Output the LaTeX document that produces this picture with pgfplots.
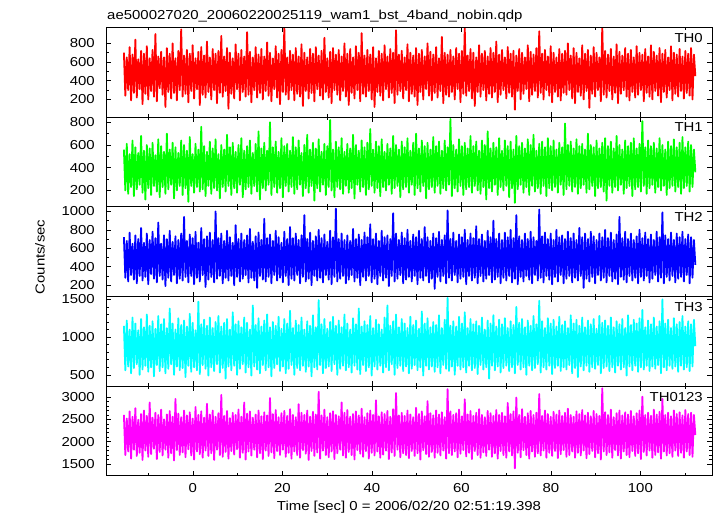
\documentclass[border=0pt]{standalone}
\usepackage{pgfplots}
\pgfplotsset{compat=1.18}
\usepackage{pgfplotstable}
\usepackage{fontspec}
\setmainfont{Liberation Sans}[FakeStretch=1.15]

\pgfplotstableread{
a b c d e
700 560 720 1150 2600
240 200 280 560 1700
650 610 680 1220 2520
300 170 240 610 1780
760 520 770 1100 2680
190 230 310 520 1620
680 640 650 1260 2560
270 150 260 590 1820
840 580 740 1180 2750
220 210 220 640 1680
630 530 700 1090 2490
310 250 300 500 1750
720 680 820 1240 2620
150 180 250 570 1590
690 550 660 1130 2700
260 120 290 620 1800
770 600 760 1300 2580
200 220 210 540 1660
640 570 690 1150 2880
290 160 320 600 1720
730 620 780 1210 2540
230 240 270 480 1840
900 510 710 1110 2650
180 190 230 630 1610
660 650 880 1280 2600
320 140 300 550 1770
710 590 650 1170 2720
250 230 260 600 1690
650 540 740 1240 2500
120 170 190 520 1820
750 700 700 1120 2610
280 210 280 580 1640
690 560 790 1380 2690
210 250 240 640 1740
800 620 670 1180 2560
270 130 310 500 1580
640 580 730 1100 2960
190 200 220 610 1810
720 530 690 1250 2630
300 240 270 560 1700
950 640 760 1160 2550
230 160 250 590 1760
670 600 940 1220 2700
260 220 290 470 1650
730 550 680 1140 2590
170 100 230 620 1830
690 670 750 1310 2660
290 240 300 540 1690
780 520 710 1190 2520
210 180 210 600 1600
640 610 780 1090 2780
310 230 280 560 1780
710 560 660 1470 2600
140 190 240 510 1720
760 760 820 1170 2680
250 210 310 630 1640
670 590 700 1230 2540
220 150 180 580 1800
820 540 730 1150 2850
280 240 260 490 1680
650 630 770 1260 2610
200 170 290 600 1740
740 570 690 1120 2700
300 220 230 550 1590
690 650 1000 1200 2560
160 200 270 640 1820
720 520 710 1280 2640
270 130 300 530 1700
880 600 760 1140 3050
230 230 220 590 1660
660 560 680 1190 2580
290 190 280 450 1770
750 690 790 1240 2690
100 240 250 610 1620
700 580 720 1100 2530
260 160 300 560 1790
640 620 660 1330 2650
210 220 200 620 1710
790 540 850 1170 2600
310 180 290 500 1830
690 600 700 1210 2720
190 250 240 580 1640
730 660 760 1130 2560
280 140 270 640 1750
660 550 690 1260 2880
230 210 310 530 1600
920 590 740 1190 2630
250 230 230 600 1780
710 640 810 1100 2680
170 170 280 490 1690
650 530 670 1420 2540
300 240 250 610 1820
760 610 730 1160 2610
220 190 170 570 1650
680 720 770 1250 2700
270 120 300 520 1740
740 570 690 1140 2570
200 220 260 630 1610
660 620 920 1220 2660
290 200 240 560 1800
810 550 710 1300 2590
240 250 290 600 1680
700 800 750 1130 2980
180 160 220 480 1760
640 580 680 1200 2620
310 230 310 590 1630
770 630 790 1150 2710
220 180 250 640 1790
690 540 720 1270 2550
150 220 280 550 1700
730 660 660 1110 2640
280 140 230 610 1820
970 590 780 1240 2690
250 240 300 520 1660
650 610 700 1180 2580
200 190 200 580 1750
720 550 830 1350 2730
300 230 270 630 1620
680 670 710 1120 2600
190 170 250 500 1780
750 580 760 1220 2550
260 210 310 590 1700
660 640 690 1160 2840
230 250 220 560 1640
790 530 740 1260 2650
130 150 290 620 1810
700 600 960 1100 2600
290 220 240 540 1730
650 690 700 1210 2700
210 180 270 610 1590
740 560 770 1150 2560
270 240 200 480 1790
690 620 680 1290 2670
180 110 300 600 1680
760 570 730 1130 2610
310 220 250 570 1760
670 650 800 1490 3120
240 190 280 630 1620
720 540 710 1170 2590
200 250 230 520 1800
860 610 750 1240 2720
280 160 310 590 1700
640 590 670 1110 2550
220 230 260 610 1650
710 820 790 1200 2640
160 200 210 550 1780
750 560 720 1270 2680
300 140 290 640 1610
680 630 1030 1150 2600
250 230 240 500 1740
730 580 700 1220 2570
190 210 270 580 1820
660 660 760 1130 2880
290 170 300 620 1690
800 540 690 1300 2650
230 240 220 560 1640
690 610 740 1180 2710
140 180 260 600 1770
740 570 680 1100 2560
270 220 310 530 1700
650 690 810 1250 2620
210 130 240 620 1600
770 600 700 1170 2680
300 250 280 570 1810
700 550 750 1380 2590
180 190 200 510 1730
910 640 690 1140 2740
260 230 290 630 1660
670 580 770 1210 2550
230 160 250 550 1790
730 620 720 1160 2640
290 210 300 600 1620
680 740 860 1280 2700
200 240 230 490 1750
760 560 700 1120 2600
120 180 270 610 1690
640 630 760 1230 2930
280 220 210 570 1780
720 590 680 1170 2570
240 150 300 620 1640
690 650 790 1100 2660
190 230 250 530 1710
780 540 720 1260 2620
310 200 280 600 1800
660 610 740 1420 2690
220 250 190 560 1610
740 570 700 1150 2560
270 170 300 640 1760
700 680 980 1210 2730
160 220 240 500 1680
940 600 760 1300 3090
250 240 270 590 1820
680 560 690 1130 2590
290 140 310 620 1650
720 630 770 1240 2650
210 210 220 550 1740
650 580 710 1180 2580
300 230 260 610 1700
790 660 800 1120 2700
180 180 290 520 1630
700 550 680 1270 2610
260 250 240 580 1790
670 620 750 1160 2550
230 160 300 630 1680
750 700 720 1220 2760
140 220 210 560 1740
690 570 790 1110 2620
280 190 280 600 1600
730 640 700 1340 2680
200 240 250 490 1810
660 590 830 1180 2570
310 130 300 620 1720
800 620 720 1250 2910
240 210 230 570 1660
710 560 680 1130 2640
190 230 270 610 1770
680 670 760 1200 2590
270 180 160 540 1640
760 590 710 1160 2700
220 240 290 600 1750
640 630 780 1290 2610
290 170 240 520 1690
870 550 690 1120 2660
160 220 300 630 1800
700 640 740 1230 2550
250 200 220 580 1620
680 580 1010 1520 3180
230 250 280 550 1740
730 830 700 1150 2680
280 150 250 610 1700
660 600 770 1210 2600
200 220 310 500 1780
750 560 680 1140 2640
310 190 230 620 1650
690 650 750 1270 2720
170 240 270 570 1730
720 590 720 1180 2570
260 160 290 600 1810
960 620 800 1330 2950
240 210 210 530 1670
670 570 690 1120 2610
290 230 300 620 1750
740 680 760 1240 2690
210 180 250 560 1610
700 590 710 1170 2580
130 240 280 590 1790
650 630 840 1210 2650
280 200 220 510 1700
780 550 700 1150 2730
230 170 300 630 1640
690 640 750 1260 2600
300 230 240 570 1760
720 600 680 1100 2550
190 120 270 600 1680
660 720 790 1220 2690
260 220 310 450 1820
750 570 720 1180 2640
220 190 230 620 1660
700 620 900 1290 2580
280 250 260 560 1740
820 580 700 1140 2710
170 160 290 610 1620
680 660 760 1230 2600
250 230 220 530 1790
730 550 690 1170 2650
300 200 280 590 1700
650 640 770 1250 2570
210 240 250 620 1640
760 590 720 1120 2870
270 140 300 550 1780
690 630 800 1210 2620
230 220 230 600 1690
720 560 710 1160 2680
90 90 270 520 1400
670 680 960 1400 2990
290 210 210 630 1750
740 590 730 1190 2600
200 250 290 570 1650
700 620 690 1240 2730
260 180 240 600 1810
650 570 760 1130 2560
310 230 300 500 1700
780 650 700 1220 2640
180 160 260 620 1620
710 600 780 1150 2690
250 240 220 560 1780
680 690 720 1280 2600
290 190 310 590 1660
750 550 680 1170 2650
220 220 250 640 1740
930 610 1020 1480 3070
270 170 280 530 1690
690 630 730 1210 2580
200 240 230 600 1800
730 580 770 1120 2700
300 150 300 570 1640
660 660 700 1250 2620
240 220 260 620 1750
770 590 760 1180 2560
170 200 210 510 1680
700 640 690 1230 2670
280 230 290 590 1790
650 560 800 1140 2610
230 180 240 620 1630
740 620 720 1270 2700
190 250 310 550 1720
690 580 740 1160 2580
270 160 220 600 1810
720 790 700 1210 2650
250 210 270 570 1660
800 600 780 1120 2740
300 240 300 630 1700
670 630 710 1290 2600
210 190 230 520 1780
750 570 760 1180 2560
160 230 280 590 1640
700 650 690 1230 2680
280 170 250 470 1750
640 590 820 1150 2620
240 220 300 610 1690
780 610 720 1260 2710
200 250 170 560 1800
690 560 760 1130 2590
290 180 270 620 1630
730 700 700 1220 2650
110 210 240 540 1720
670 600 780 1170 2570
260 240 290 600 1790
760 580 730 1240 2690
230 150 220 580 1650
700 640 690 1110 2620
300 220 310 630 1740
650 570 760 1280 2580
180 230 250 520 1600
980 620 720 1190 3200
250 190 280 590 1780
720 660 800 1220 2660
220 110 230 610 1700
680 590 710 1150 2600
290 240 300 550 1760
740 630 770 1260 2720
200 180 240 600 1640
660 570 690 1130 2550
270 230 270 530 1810
790 680 750 1210 2640
160 200 210 620 1690
710 600 940 1170 2700
260 250 290 570 1620
670 560 710 1240 2590
300 170 260 600 1780
750 640 780 1120 2660
230 220 230 490 1700
690 590 700 1290 2610
190 240 300 610 1650
730 620 760 1160 2690
280 150 250 560 1790
650 660 690 1230 2570
220 210 280 620 1680
770 570 730 1180 2640
250 230 220 540 1740
700 610 800 1250 2700
300 190 290 600 1610
680 810 710 1360 3010
180 240 250 570 1770
740 580 770 1130 2600
270 170 300 620 1690
660 640 700 1220 2650
230 220 230 550 1800
780 590 750 1170 2580
200 250 270 610 1640
710 620 690 1260 2720
290 180 310 580 1700
670 570 780 1140 2610
240 230 240 630 1760
750 660 720 1210 2670
170 200 280 520 1620
690 600 990 1500 2960
280 240 220 600 1780
730 560 740 1180 2600
220 160 290 560 1690
650 630 700 1230 2650
300 220 250 620 1740
770 590 770 1120 2570
190 240 300 580 1660
700 650 690 1250 2700
260 190 230 610 1800
680 580 760 1170 2620
230 230 270 540 1680
740 620 720 1200 2660
290 170 290 620 1750
660 670 780 1280 2590
210 220 240 570 1640
720 580 700 1140 2710
270 240 310 600 1780
690 630 750 1210 2620
240 190 220 550 1700
750 600 720 1170 2650
200 230 280 610 1660
680 560 690 1230 2600
450 360 420 880 2150
}\lc

\pgfplotsset{
  panel/.style={
    scale only axis, width=606pt, height=89.7pt,
    xmin=-19.4, xmax=116,
    xtick={-20,0,...,120}, minor x tick num=1,
    tick align=inside, xtick pos=both, ytick pos=both,
    yticklabel pos=left, xticklabel pos=lower,
    major tick length=5pt, minor tick length=3pt,
    every tick/.style={black, line width=0.6pt},
    axis line style={line width=1pt},
    axis on top,
    tick label style={font=\fontsize{13}{15}\selectfont},
    /pgf/number format/assume math mode=true,
    /pgf/number format/1000 sep={},
    yticklabel style={anchor=east, inner sep=0pt, xshift=-11pt},
    xticklabel style={anchor=north, inner sep=0pt, yshift=-7pt},
    xticklabels={},
  },
  curve/.style={line width=1.8pt, line join=round, mark=none},
}

\begin{document}
\fontsize{13}{15}\selectfont
\begin{tikzpicture}
\path[use as bounding box] (0,0) rectangle (717pt,516pt);

\begin{axis}[panel, at={(106pt,398.8pt)}, anchor=south west,
  ymin=10, ymax=970, ytick={200,400,600,800}, minor y tick num=1]
\addplot[curve, color={rgb,1:red,1;green,0;blue,0}] table[x expr=\coordindex*0.32-15.4, y=a] {\lc};
\node[anchor=north east, inner sep=0pt, font=\fontsize{13}{15}\selectfont] at (rel axis cs:1,1) [xshift=-9pt, yshift=-5.5pt] {TH0};
\end{axis}

\begin{axis}[panel, at={(106pt,309.1pt)}, anchor=south west,
  ymin=55, ymax=845, ytick={200,400,600,800}, minor y tick num=1]
\addplot[curve, color={rgb,1:red,0;green,1;blue,0}] table[x expr=\coordindex*0.32-15.4, y=b] {\lc};
\node[anchor=north east, inner sep=0pt, font=\fontsize{13}{15}\selectfont] at (rel axis cs:1,1) [xshift=-9pt, yshift=-5.5pt] {TH1};
\end{axis}

\begin{axis}[panel, at={(106pt,219.4pt)}, anchor=south west,
  ymin=76, ymax=1049, ytick={200,400,600,800,1000}, minor y tick num=1]
\addplot[curve, color={rgb,1:red,0;green,0;blue,1}] table[x expr=\coordindex*0.32-15.4, y=c] {\lc};
\node[anchor=north east, inner sep=0pt, font=\fontsize{13}{15}\selectfont] at (rel axis cs:1,1) [xshift=-9pt, yshift=-5.5pt] {TH2};
\end{axis}

\begin{axis}[panel, at={(106pt,129.7pt)}, anchor=south west,
  ymin=348, ymax=1537, ytick={500,1000,1500}, minor y tick num=4]
\addplot[curve, color={rgb,1:red,0;green,1;blue,1}] table[x expr=\coordindex*0.32-15.4, y=d] {\lc};
\node[anchor=north east, inner sep=0pt, font=\fontsize{13}{15}\selectfont] at (rel axis cs:1,1) [xshift=-9pt, yshift=-5.5pt] {TH3};
\end{axis}

\begin{axis}[panel, at={(106pt,40pt)}, anchor=south west,
  ymin=1230, ymax=3243, ytick={1500,2000,2500,3000}, minor y tick num=4,
  xticklabels={,0,20,40,60,80,100}]
\addplot[curve, color={rgb,1:red,1;green,0;blue,1}] table[x expr=\coordindex*0.32-15.4, y=e] {\lc};
\node[anchor=north east, inner sep=0pt, font=\fontsize{13}{15}\selectfont] at (rel axis cs:1,1) [xshift=-9pt, yshift=-5.5pt] {TH0123};
\end{axis}

\node[anchor=base west, inner sep=0pt] at (107pt,496pt) {ae500027020\_20060220025119\_wam1\_bst\_4band\_nobin.qdp};
\node[rotate=90, inner sep=0pt] at (40pt,259pt) {Counts/sec};
\node[anchor=base, inner sep=0pt] at (409pt,5pt) {Time [sec] 0 = 2006/02/20 02:51:19.398};
\end{tikzpicture}
\end{document}
